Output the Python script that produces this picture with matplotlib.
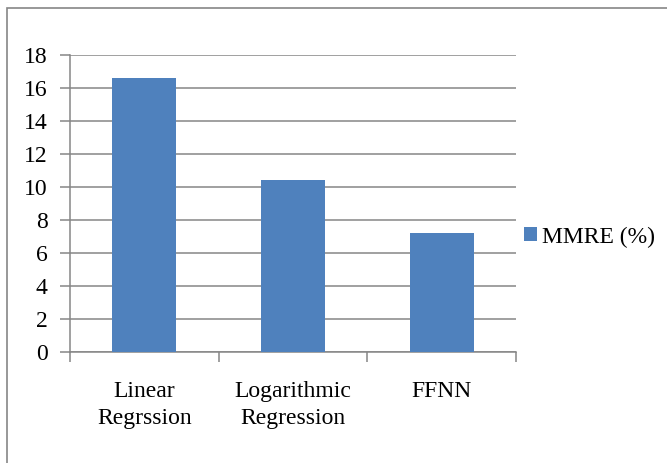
import matplotlib
matplotlib.use("Agg")
import matplotlib.pyplot as plt
from matplotlib.patches import Rectangle, Patch

categories = ["Linear\nRegrssion", "Logarithmic\nRegression", "FFNN"]
values = [16.6, 10.4, 7.2]
series_name = "MMRE (%)"
yticks = [0, 2, 4, 6, 8, 10, 12, 14, 16, 18]

plt.rcParams['font.family'] = ['Liberation Serif', 'DejaVu Serif']

W, H = 667, 463
fig = plt.figure(figsize=(W / 100, H / 100), dpi=100)
ax = fig.add_axes([70 / W, 1 - 352 / H, (516 - 70) / W, (352 - 55) / H])

grid_c = '#868686'
fs = 17
x = list(range(len(categories)))
ax.bar(x, values, width=0.43, color='#4F81BD', zorder=3)
ax.set_xlim(-0.5, len(categories) - 0.5)
ax.set_ylim(0, 18)
ax.set_yticks(yticks)
ax.set_yticklabels([str(t) for t in yticks], fontsize=fs)
ax.yaxis.grid(True, color=grid_c, linewidth=1.1, zorder=0)
ax.set_axisbelow(True)

ax.set_xticks([-0.5, 0.5, 1.5, 2.5])
ax.set_xticklabels([])
ax.set_xticks(x, minor=True)
ax.set_xticklabels(categories, minor=True, fontsize=fs, linespacing=1.35)
ax.tick_params(axis='x', which='minor', length=0, pad=21)
ax.tick_params(axis='x', which='major', length=7, color=grid_c, width=1.1)
ax.tick_params(axis='y', length=7, color=grid_c, width=1.1, pad=9)

for s in ['top', 'right']:
    ax.spines[s].set_visible(False)
for s in ['left', 'bottom']:
    ax.spines[s].set_color(grid_c)
    ax.spines[s].set_linewidth(1.1)

handles = [Patch(facecolor='#4F81BD', edgecolor='none', label=series_name)]
fig.legend(handles=handles, loc='center left', bbox_to_anchor=(524 / W, 1 - 237 / H),
           frameon=False, fontsize=fs, handlelength=0.55, handleheight=0.55,
           handletextpad=0.2, borderaxespad=0, borderpad=0)

fig.patches.append(Rectangle((7 / W, -0.1), 1.2, 1.1 - 8 / H, transform=fig.transFigure,
                             fill=False, edgecolor='#868686', linewidth=1.2, clip_on=False))

fig.savefig("out.png", dpi=100)
